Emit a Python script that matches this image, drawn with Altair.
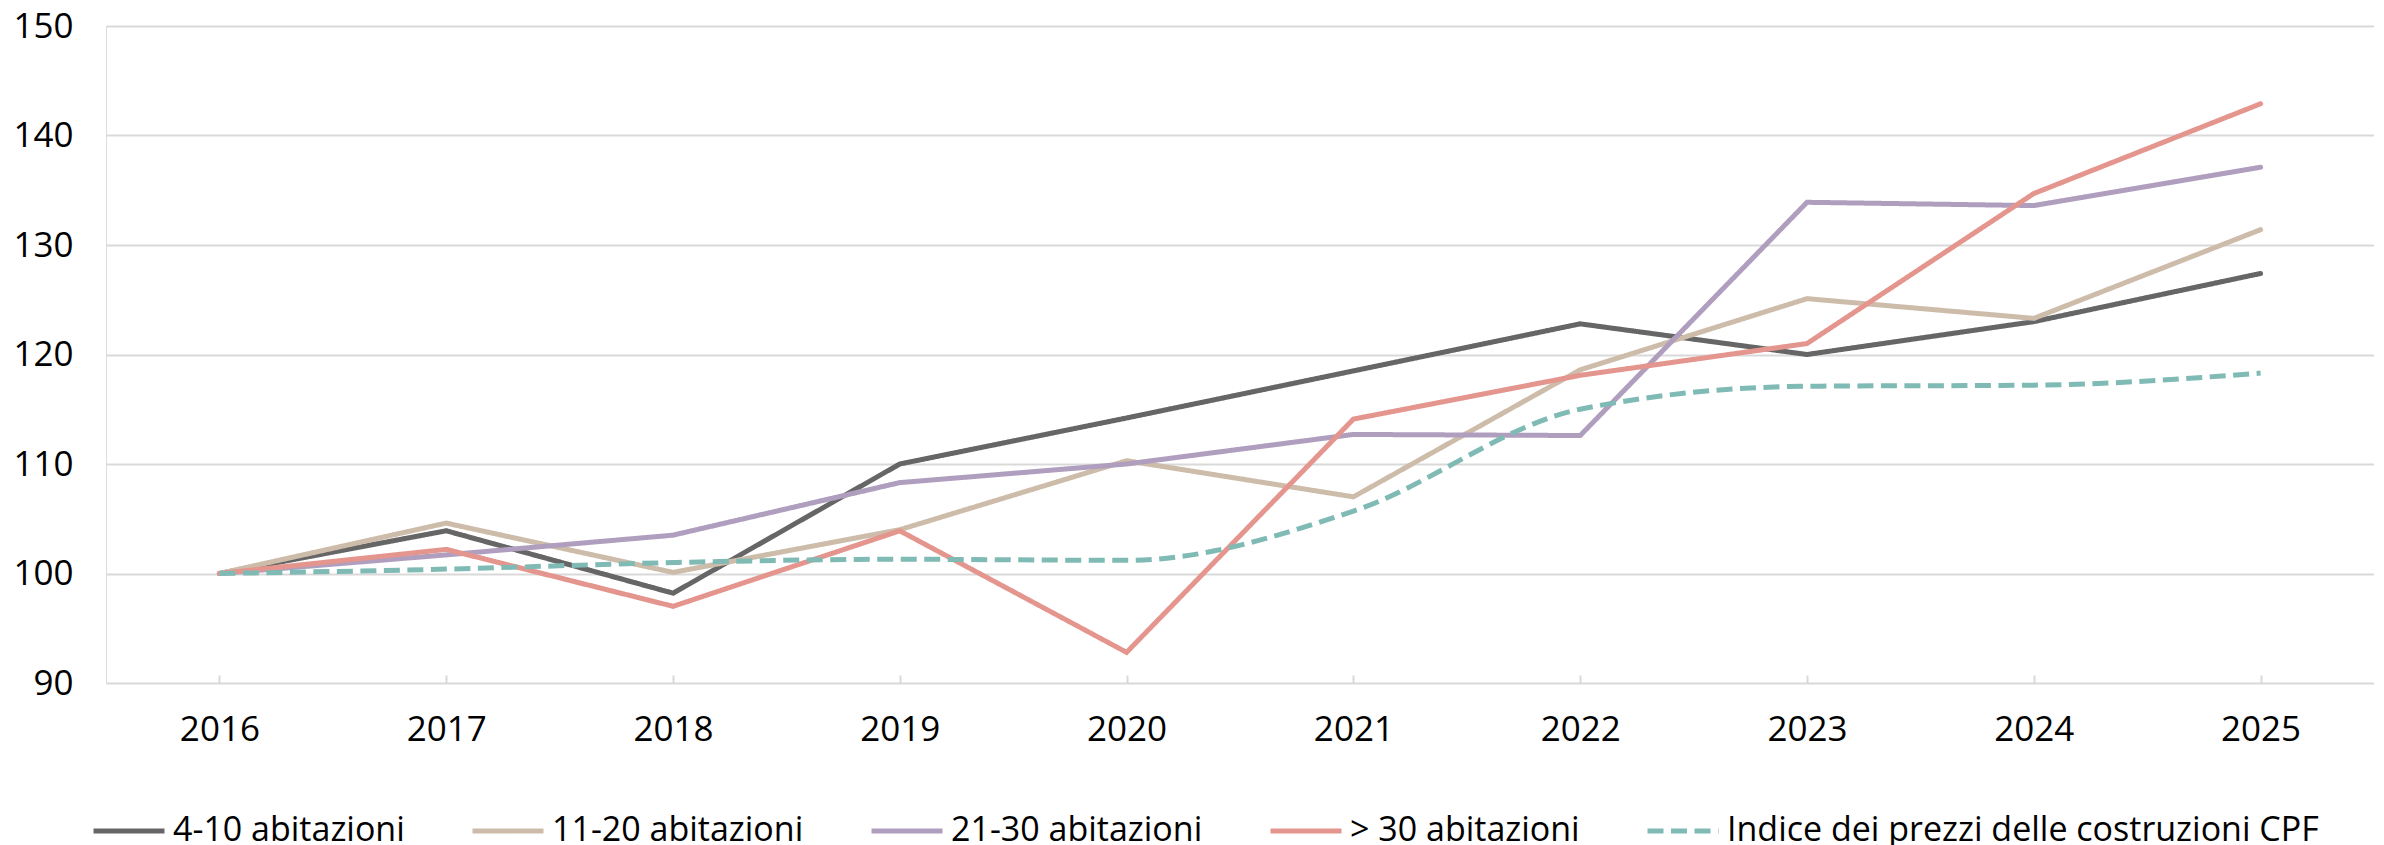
import altair as alt
import pandas as pd

years = [2016, 2017, 2018, 2019, 2020, 2021, 2022, 2023, 2024, 2025]
series_names = ["4-10 abitazioni", "11-20 abitazioni", "21-30 abitazioni",
                "> 30 abitazioni", "Indice dei prezzi delle costruzioni CPF"]
s_4_10 = [100, 103.9, 98.2, 110.0, 114.2, 118.5, 122.8, 120.0, 123.0, 127.4]
s_11_20 = [100, 104.6, 100.1, 104.0, 110.3, 107.0, 118.6, 125.1, 123.3, 131.4]
s_21_30 = [100, 101.7, 103.5, 108.3, 110.0, 112.7, 112.6, 133.9, 133.6, 137.1]
s_gt30 = [100, 102.2, 97.0, 103.9, 92.8, 114.1, 118.1, 121.0, 134.7, 142.9]
s_cpf = [100, 100.4, 101.0, 101.3, 101.2, 105.7, 115.0, 117.1, 117.2, 118.3]
y_ticks = [90, 100, 110, 120, 130, 140, 150]

colors = ["#666666", "#CEBCAA", "#B09EBF", "#E4968E", "#7FBAB4"]
dashes = [[1, 0], [1, 0], [1, 0], [1, 0], [16, 7.5]]

rows = []
for name, vals in zip(series_names, [s_4_10, s_11_20, s_21_30, s_gt30, s_cpf]):
    for yr, v in zip(years, vals):
        rows.append({"Anno": str(yr), "Valore": v, "Serie": name})
df = pd.DataFrame(rows)

FONT = "Open Sans"

x_enc = alt.X("Anno:O", sort=[str(y) for y in years],
              scale=alt.Scale(type="point", padding=0.5),
              axis=alt.Axis(title=None, labelAngle=0, domain=False, ticks=True,
                            tickSize=8, tickWidth=2, tickColor="#d9d9d9",
                            offset=-8, labelPadding=29, labelFontSize=35,
                            labelFont=FONT, labelColor="#000000", grid=False,
                            labelBaseline="top"))
y_enc = alt.Y("Valore:Q",
              scale=alt.Scale(domain=[90, 150], nice=False, zero=False),
              axis=alt.Axis(title=None, values=y_ticks, domain=False, ticks=False,
                            grid=True, gridColor="#d9d9d9", gridWidth=2,
                            labelPadding=33, labelFontSize=35, labelFont=FONT,
                            labelColor="#000000"))
color_enc = alt.Color("Serie:N",
                      scale=alt.Scale(domain=series_names, range=colors),
                      legend=alt.Legend(title=None, orient="none",
                                        direction="horizontal", columns=5,
                                        legendX=-15, legendY=767,
                                        labelFont=FONT, labelFontSize=34,
                                        labelColor="#000000", labelOffset=6,
                                        symbolType="stroke", symbolSize=5041,
                                        symbolStrokeWidth=5, columnPadding=57,
                                        labelLimit=1000))
dash_enc = alt.StrokeDash("Serie:N",
                          scale=alt.Scale(domain=series_names, range=dashes),
                          legend=None)

solid = alt.Chart(df).transform_filter(
    alt.FieldOneOfPredicate(field="Serie", oneOf=series_names[:4])
).mark_line(strokeWidth=5, strokeJoin="miter", strokeCap="round").encode(
    x=x_enc, y=y_enc, color=color_enc, strokeDash=dash_enc,
    order=alt.Order("Anno:O"))

dashed = alt.Chart(df).transform_filter(
    alt.FieldEqualPredicate(field="Serie", equal=series_names[4])
).mark_line(strokeWidth=5, strokeCap="butt", interpolate="monotone").encode(
    x=x_enc, y=y_enc, color=color_enc, strokeDash=dash_enc,
    order=alt.Order("Anno:O"))

chart = alt.layer(solid, dashed).properties(
    width=2268, height=657,
    padding={"left": 98, "top": 18, "right": 0, "bottom": 162},
    autosize=alt.AutoSizeParams(type="none"),
).configure_view(stroke=None).configure(background="white")

chart.save("out.html", embed_options={"renderer": "svg", "actions": False})
